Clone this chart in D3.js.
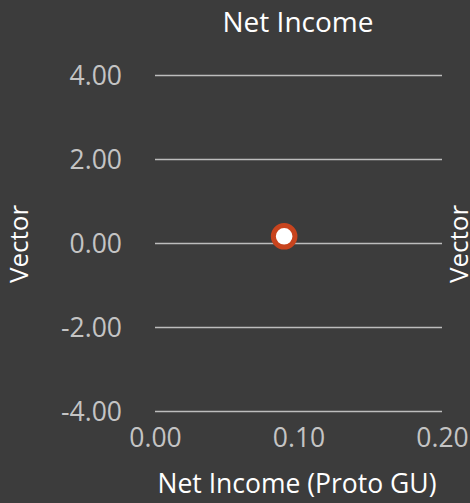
<!DOCTYPE html>
<html><head><meta charset="utf-8">
<script src="https://cdn.jsdelivr.net/npm/d3@7"></script>
<style>
html,body{margin:0;padding:0;background:#3c3c3c;overflow:hidden}
text{font-family:"Open Sans","Noto Sans",sans-serif;font-weight:400}
</style></head>
<body><svg id="c" width="470" height="503"></svg>
<script>
const title = "Net Income";
const xLabel = "Net Income (Proto GU)";
const yLabel = "Vector";
const xTicks = [0, 0.1, 0.2];
const yTicks = [-4, -2, 0, 2, 4];
const xValues = [0.09];
const yValues = [0.16];

const fmt = (d) => d3.format(".2f")(d).replace("\u2212", "-");
const svg = d3.select("#c");
svg.append("rect").attr("width",470).attr("height",503).attr("fill","#3c3c3c");
const x = d3.scaleLinear().domain([0,0.2]).range([155,442]);
const y = d3.scaleLinear().domain([-4,4]).range([411,75]);

const yAxis = svg.append("g").attr("transform","translate(155,0)")
  .call(d3.axisLeft(y).tickValues(yTicks).tickSize(-287).tickPadding(33).tickFormat(fmt));
yAxis.select(".domain").remove();
yAxis.selectAll("line").attr("stroke","#bdbdbd").attr("stroke-width",1.3);
yAxis.selectAll("text").attr("fill","#c4c4c4").attr("font-size",26.5).attr("dy","0.34em");

const xAxis = svg.append("g").attr("transform","translate(0,411)")
  .call(d3.axisBottom(x).tickValues(xTicks).tickSize(0).tickPadding(17).tickFormat(fmt));
xAxis.select(".domain").remove();
xAxis.selectAll("text").attr("fill","#c4c4c4").attr("font-size",26.5);

svg.append("text").attr("x",298).attr("y",32).attr("text-anchor","middle")
  .attr("fill","#ffffff").attr("font-size",28).text(title);
svg.append("text").attr("x",297).attr("y",493).attr("text-anchor","middle")
  .attr("fill","#ffffff").attr("font-size",26.5).text(xLabel);
svg.append("text").attr("transform","translate(28,244) rotate(-90)").attr("text-anchor","middle")
  .attr("fill","#ffffff").attr("font-size",26).text(yLabel);
svg.append("text").attr("transform","translate(468,244) rotate(-90)").attr("text-anchor","middle")
  .attr("fill","#ffffff").attr("font-size",26).text(yLabel);

svg.selectAll("circle.pt").data(xValues).join("circle").attr("class","pt")
  .attr("cx",(d)=>x(d)).attr("cy",(d,i)=>y(yValues[i])).attr("r",10.8)
  .attr("fill","#ffffff").attr("stroke","#c8441e").attr("stroke-width",5);
</script></body></html>
